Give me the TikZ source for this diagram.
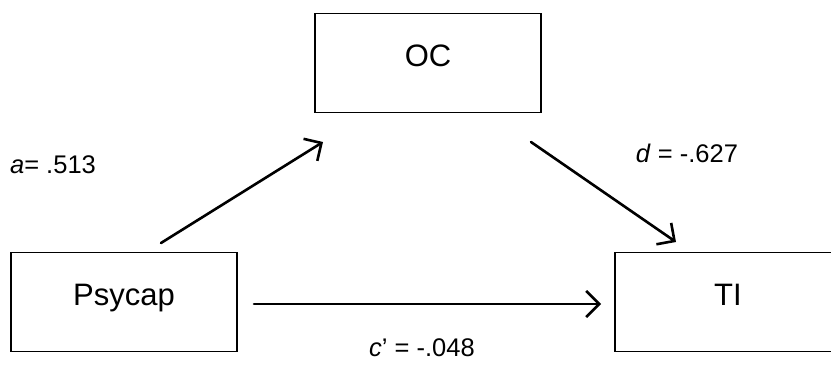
\documentclass[tikz,border=0pt]{standalone}
\usepackage{fontspec}
\setmainfont{Liberation Sans}
\usetikzlibrary{arrows.meta}
\begin{document}
\begin{tikzpicture}[x=1pt,y=-1pt,
  box/.style={draw, line width=1.6pt, minimum width=226pt, minimum height=99pt,
    inner sep=0pt, text height=22pt, text depth=16pt,
    font=\fontsize{31}{37}\selectfont},
  effect/.style={line width=2.6pt, line cap=round,
    -{Straight Barb[length=13pt,width=26pt,line width=2.6pt]}},
  coef/.style={font=\fontsize{25.5}{30}\selectfont, inner sep=0pt}]
\useasboundingbox (0,0) rectangle (831,370);

% variables
\node[box] (psy) at (124,302) {Psycap};
\node[box] (oc)  at (428,63)  {OC};
\node[box] (ti)  at (728,302) {TI};

% path end points
\coordinate (a1) at (161,243);
\coordinate (a2) at (323,142);
\coordinate (d1) at (531,142);
\coordinate (d2) at (676,242);
\coordinate (c1) at (254,304);
\coordinate (c2) at (601,304);

% paths
\draw[effect] (a1) -- (a2);
\draw[effect] (d1) -- (d2);
\draw[effect] (c1) -- (c2);

% coefficients
\node[coef] (la) at (53,165)  {\textit{a}= .513};
\node[coef] (ld) at (687,153) {\textit{d} = -.627};
\node[coef] (lc) at (422,348) {\textit{c}’ = -.048};
\end{tikzpicture}
\end{document}
